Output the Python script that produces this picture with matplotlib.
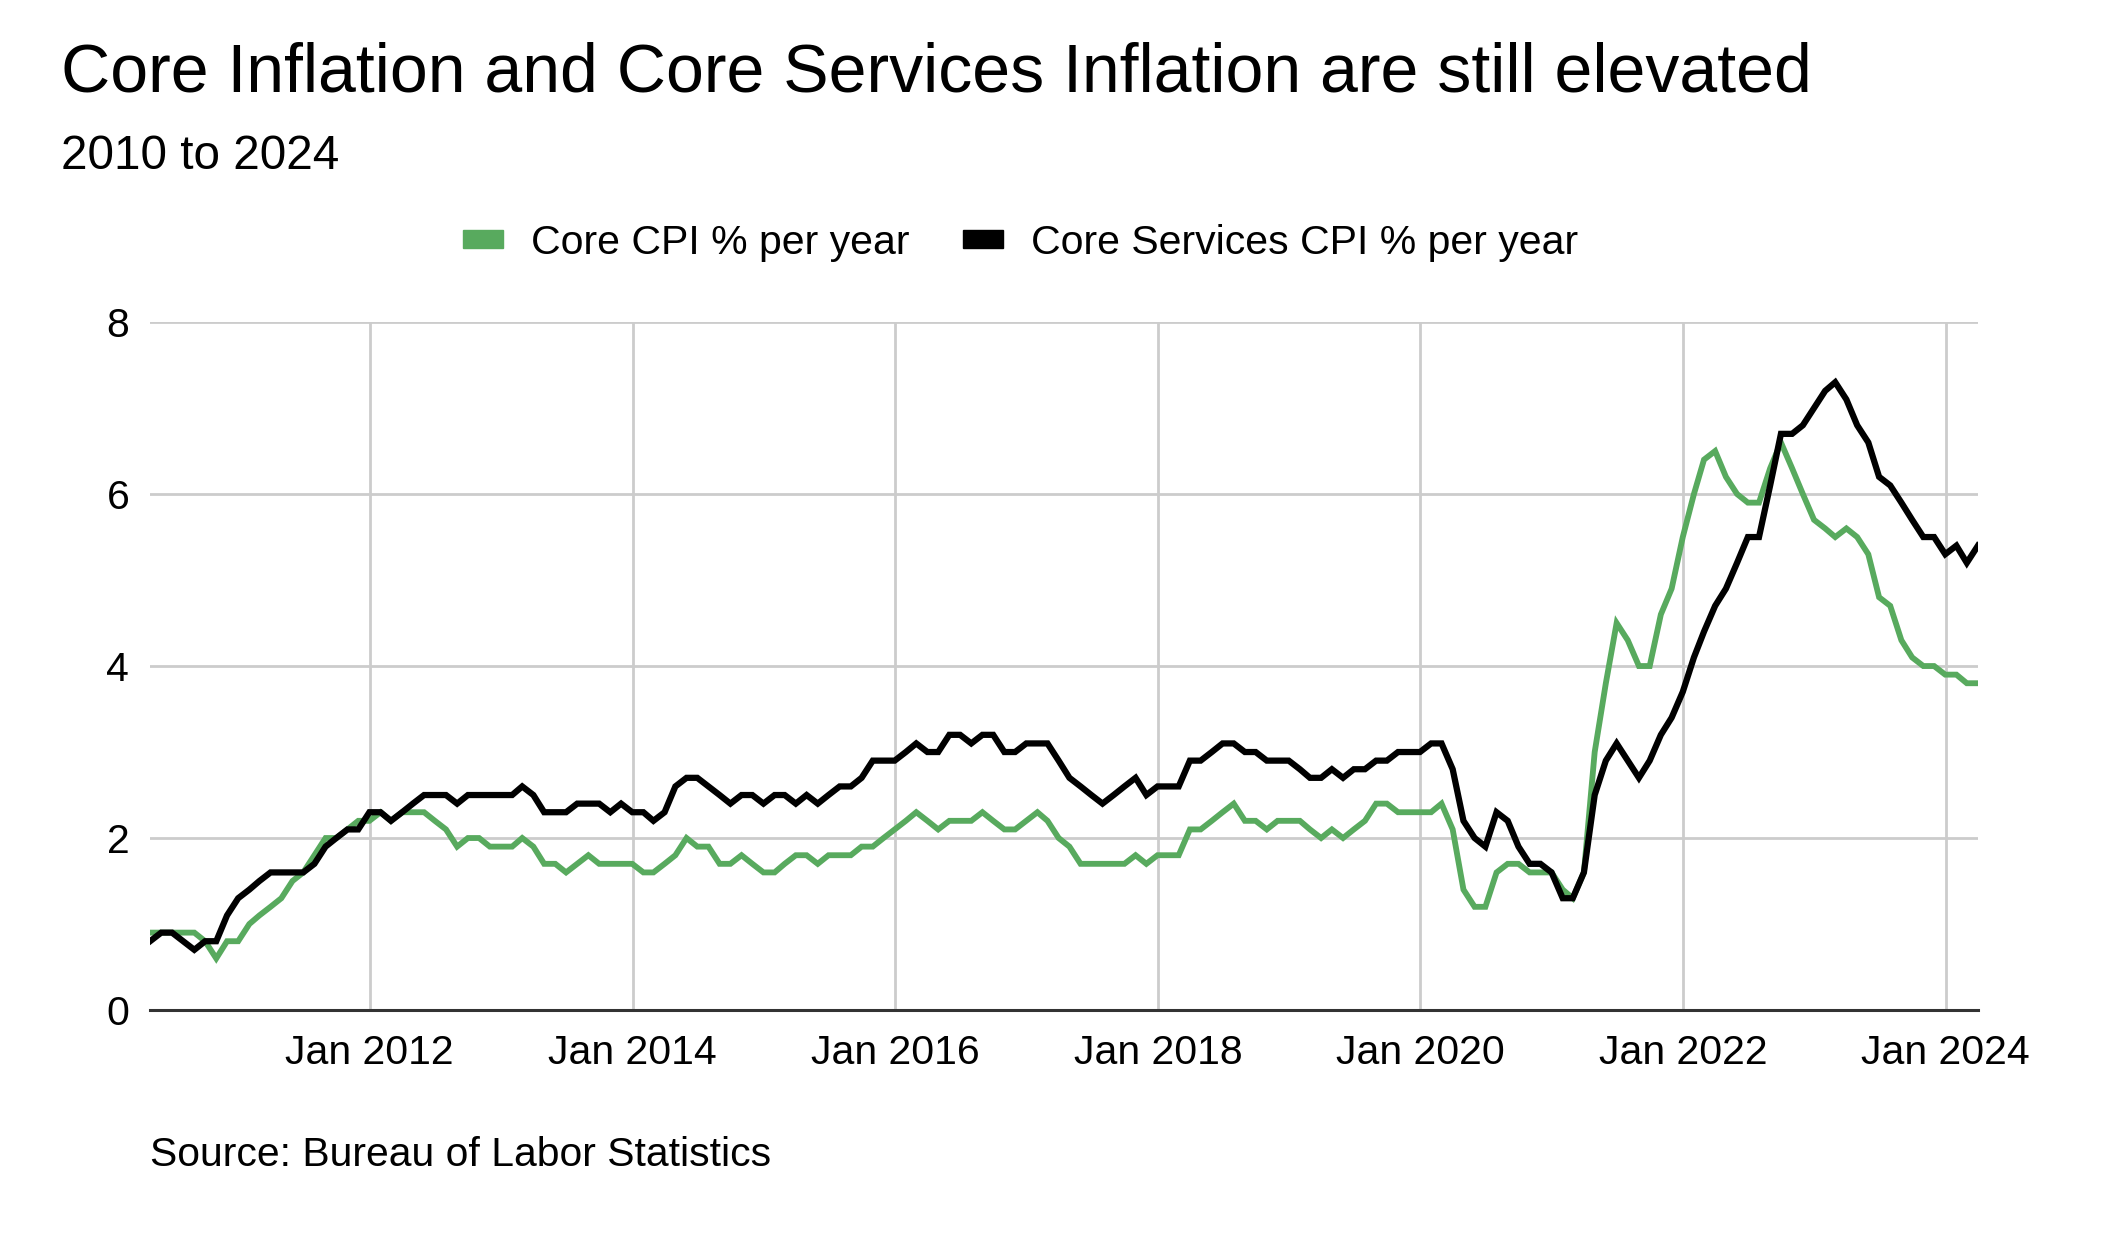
from matplotlib import pyplot as plt
from matplotlib.patches import Patch
import matplotlib.dates as mdates
import pandas as pd

plt.rcParams['font.family'] = ['Liberation Sans', 'DejaVu Sans']

# monthly, Apr 2010 - Mar 2024 (plotted at month end)
dates = pd.date_range('2010-04-30', '2024-03-31', freq='ME')

# Core CPI % per year
core_cpi = [
    0.9, 0.9, 0.9, 0.9, 0.9, 0.8, 0.6, 0.8, 0.8,                      # Apr-Dec 2010
    1.0, 1.1, 1.2, 1.3, 1.5, 1.6, 1.8, 2.0, 2.0, 2.1, 2.2, 2.2,       # 2011
    2.3, 2.2, 2.3, 2.3, 2.3, 2.2, 2.1, 1.9, 2.0, 2.0, 1.9, 1.9,       # 2012
    1.9, 2.0, 1.9, 1.7, 1.7, 1.6, 1.7, 1.8, 1.7, 1.7, 1.7, 1.7,       # 2013
    1.6, 1.6, 1.7, 1.8, 2.0, 1.9, 1.9, 1.7, 1.7, 1.8, 1.7, 1.6,       # 2014
    1.6, 1.7, 1.8, 1.8, 1.7, 1.8, 1.8, 1.8, 1.9, 1.9, 2.0, 2.1,       # 2015
    2.2, 2.3, 2.2, 2.1, 2.2, 2.2, 2.2, 2.3, 2.2, 2.1, 2.1, 2.2,       # 2016
    2.3, 2.2, 2.0, 1.9, 1.7, 1.7, 1.7, 1.7, 1.7, 1.8, 1.7, 1.8,       # 2017
    1.8, 1.8, 2.1, 2.1, 2.2, 2.3, 2.4, 2.2, 2.2, 2.1, 2.2, 2.2,       # 2018
    2.2, 2.1, 2.0, 2.1, 2.0, 2.1, 2.2, 2.4, 2.4, 2.3, 2.3, 2.3,       # 2019
    2.3, 2.4, 2.1, 1.4, 1.2, 1.2, 1.6, 1.7, 1.7, 1.6, 1.6, 1.6,       # 2020
    1.4, 1.3, 1.6, 3.0, 3.8, 4.5, 4.3, 4.0, 4.0, 4.6, 4.9, 5.5,       # 2021
    6.0, 6.4, 6.5, 6.2, 6.0, 5.9, 5.9, 6.3, 6.6, 6.3, 6.0, 5.7,       # 2022
    5.6, 5.5, 5.6, 5.5, 5.3, 4.8, 4.7, 4.3, 4.1, 4.0, 4.0, 3.9,       # 2023
    3.9, 3.8, 3.8,                                                    # 2024
]

# Core Services CPI % per year
core_services = [
    0.8, 0.9, 0.9, 0.8, 0.7, 0.8, 0.8, 1.1, 1.3,                      # Apr-Dec 2010
    1.4, 1.5, 1.6, 1.6, 1.6, 1.6, 1.7, 1.9, 2.0, 2.1, 2.1, 2.3,       # 2011
    2.3, 2.2, 2.3, 2.4, 2.5, 2.5, 2.5, 2.4, 2.5, 2.5, 2.5, 2.5,       # 2012
    2.5, 2.6, 2.5, 2.3, 2.3, 2.3, 2.4, 2.4, 2.4, 2.3, 2.4, 2.3,       # 2013
    2.3, 2.2, 2.3, 2.6, 2.7, 2.7, 2.6, 2.5, 2.4, 2.5, 2.5, 2.4,       # 2014
    2.5, 2.5, 2.4, 2.5, 2.4, 2.5, 2.6, 2.6, 2.7, 2.9, 2.9, 2.9,       # 2015
    3.0, 3.1, 3.0, 3.0, 3.2, 3.2, 3.1, 3.2, 3.2, 3.0, 3.0, 3.1,       # 2016
    3.1, 3.1, 2.9, 2.7, 2.6, 2.5, 2.4, 2.5, 2.6, 2.7, 2.5, 2.6,       # 2017
    2.6, 2.6, 2.9, 2.9, 3.0, 3.1, 3.1, 3.0, 3.0, 2.9, 2.9, 2.9,       # 2018
    2.8, 2.7, 2.7, 2.8, 2.7, 2.8, 2.8, 2.9, 2.9, 3.0, 3.0, 3.0,       # 2019
    3.1, 3.1, 2.8, 2.2, 2.0, 1.9, 2.3, 2.2, 1.9, 1.7, 1.7, 1.6,       # 2020
    1.3, 1.3, 1.6, 2.5, 2.9, 3.1, 2.9, 2.7, 2.9, 3.2, 3.4, 3.7,       # 2021
    4.1, 4.4, 4.7, 4.9, 5.2, 5.5, 5.5, 6.1, 6.7, 6.7, 6.8, 7.0,       # 2022
    7.2, 7.3, 7.1, 6.8, 6.6, 6.2, 6.1, 5.9, 5.7, 5.5, 5.5, 5.3,       # 2023
    5.4, 5.2, 5.4,                                                    # 2024
]

green = '#58aa5e'
grid_col = '#cccccc'

fig = plt.figure(figsize=(21.2, 12.6), dpi=100)
ax = fig.add_axes([0.0708, 0.1984, 0.8622, 0.546])

ax.plot(dates, core_cpi, color=green, lw=4.2, solid_joinstyle='miter', zorder=3)
ax.plot(dates, core_services, color='black', lw=4.5, solid_joinstyle='miter', zorder=4)

ax.set_ylim(0, 8)
ax.set_yticks([0, 2, 4, 6, 8])
ax.set_xlim(dates[0], dates[-1])
ax.xaxis.set_major_locator(mdates.YearLocator(2, month=1, day=1))
ax.xaxis.set_major_formatter(mdates.DateFormatter('Jan %Y'))

ax.grid(True, color=grid_col, lw=2)
ax.set_axisbelow(True)
for s in ['top', 'right', 'left']:
    ax.spines[s].set_visible(False)
ax.spines['bottom'].set_color('#333333')
ax.spines['bottom'].set_linewidth(2.2)
ax.spines['bottom'].set_zorder(5)
ax.tick_params(axis='both', length=0, labelsize=29.5, colors='#000000')
ax.tick_params(axis='x', pad=17)
ax.tick_params(axis='y', pad=15)

fig.text(0.029, 0.927, 'Core Inflation and Core Services Inflation are still elevated',
         fontsize=49, va='baseline')
fig.text(0.029, 0.866, '2010 to 2024', fontsize=34.3, va='baseline')
fig.text(0.0708, 0.075, 'Source: Bureau of Labor Statistics', fontsize=29.4, va='baseline')

handles = [Patch(color=green, label='Core CPI % per year'),
           Patch(color='black', label='Core Services CPI % per year')]
fig.legend(handles=handles, loc='center', bbox_to_anchor=(0.4815, 0.807), ncol=2,
           frameon=False, fontsize=29.5, handlelength=0.98, handleheight=0.3,
           handletextpad=0.68, columnspacing=1.3)

plt.savefig('out.png', dpi=100)
